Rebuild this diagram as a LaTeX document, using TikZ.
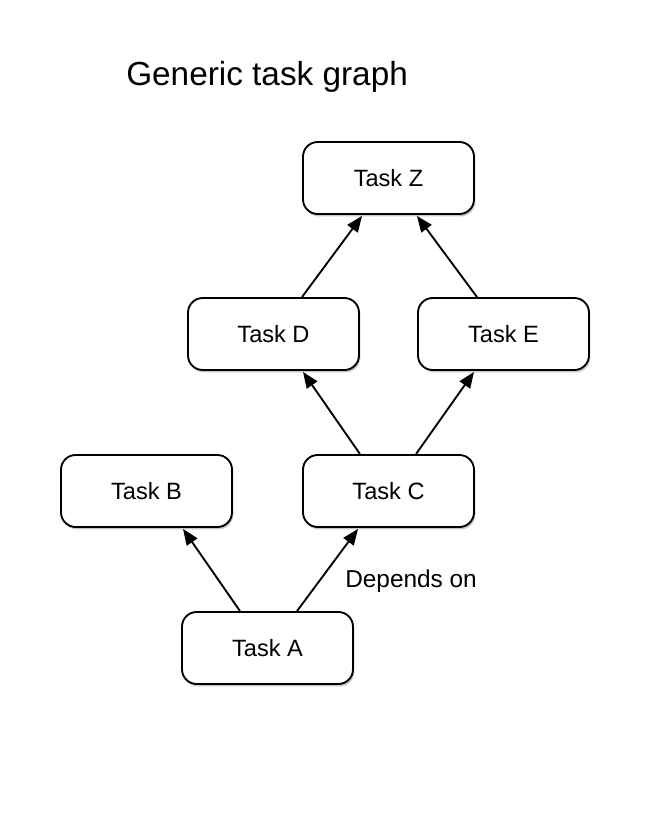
\documentclass[tikz,border=0pt]{standalone}
\usepackage{fontspec}
\setmainfont{Liberation Sans}
\usetikzlibrary{calc,arrows.meta,shadows}
\begin{document}
\begin{tikzpicture}[x=0.75pt,y=-0.75pt,
  task/.style={draw, line width=1.4pt, rounded corners=11pt, fill=white,
    minimum width=128.25pt, minimum height=54pt, inner sep=0pt,
    font=\fontsize{17.7pt}{20pt}\selectfont,
    drop shadow={shadow xshift=1pt, shadow yshift=-1.8pt, opacity=0.22, fill=black}},
  dep/.style={line width=1.4pt, -{Triangle[length=12pt,width=9.5pt]}}]
\useasboundingbox (0,0) rectangle (648,832);
% title
\node[anchor=base west, inner sep=0pt, font=\fontsize{25pt}{30pt}\selectfont] (title) at (126,85) {Generic task graph};
% tasks
\node[task] (Z) at (388.5,178) {Task Z};
\node[task] (D) at (273.5,334) {Task D};
\node[task] (E) at (503.5,334) {Task E};
\node[task] (B) at (146.5,491) {Task B};
\node[task] (C) at (388.5,491) {Task C};
\node[task] (A) at (267.5,648) {Task A};
% dependencies
\draw[dep] ($(A.north)+(-27.5,0)$) -- ($(B.south)+(36.5,1)$);
\draw[dep] ($(A.north)+(29.5,0)$) -- ($(C.south)+(-30.5,1)$);
\draw[dep] ($(C.north)+(-28.5,0)$) -- ($(D.south)+(29.5,1)$);
\draw[dep] ($(C.north)+(27.5,0)$) -- ($(E.south)+(-29.5,1)$);
\draw[dep] ($(D.north)+(28.5,0)$) -- ($(Z.south)+(-26.5,1)$);
\draw[dep] ($(E.north)+(-26.5,0)$) -- ($(Z.south)+(28.5,1)$);
% edge label
\node[anchor=base west, inner sep=0pt, font=\fontsize{18.3pt}{22pt}\selectfont] (lbl) at (345,587) {Depends on};
\end{tikzpicture}
\end{document}
